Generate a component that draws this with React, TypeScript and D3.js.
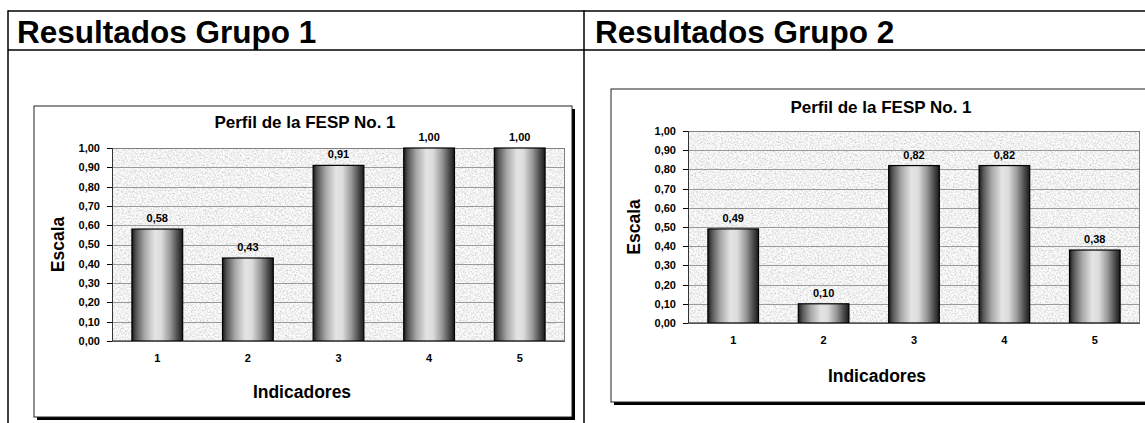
import React from 'react';
import * as d3 from 'd3';

const categories = ['1', '2', '3', '4', '5'];
const group1Values = [0.58, 0.43, 0.91, 1.0, 1.0];
const group2Values = [0.49, 0.1, 0.82, 0.82, 0.38];
const yTicks = [0, 0.1, 0.2, 0.3, 0.4, 0.5, 0.6, 0.7, 0.8, 0.9, 1.0];
const headerLabels = ['Resultados Grupo 1', 'Resultados Grupo 2'];
const chartTitle = 'Perfil de la FESP No. 1';
const yAxisTitle = 'Escala';
const xAxisTitle = 'Indicadores';

const FONT = '"Liberation Sans", Arial, Helvetica, sans-serif';
const fmt = (v: number) => d3.format('.2f')(v).replace('.', ',');

type ChartProps = {
  id: string;
  values: number[];
  box: { x: number; y: number; w: number; h: number };
  plot: { left: number; right: number; top: number; bottom: number };
  titleX: number;
  titleY: number;
  xTitleX: number;
  xTitleY: number;
};

function BarChart({ id, values, box, plot, titleX, titleY, xTitleX, xTitleY }: ChartProps) {
  const x = d3
    .scaleBand<string>()
    .domain(categories)
    .range([plot.left, plot.right])
    .paddingInner(0.44)
    .paddingOuter(0.22);
  const y = d3.scaleLinear().domain([0, 1]).range([plot.bottom, plot.top]);
  const pw = plot.right - plot.left;
  const ph = plot.bottom - plot.top;
  return (
    <g>
      <defs>
        <filter id={`tex-${id}`} x="0" y="0" width="1" height="1" filterUnits="objectBoundingBox">
          <feTurbulence type="fractalNoise" baseFrequency="0.6" numOctaves="3" seed="7" result="n" />
          <feColorMatrix
            in="n"
            type="matrix"
            values="0.75 0.15 0 0 0.43  0.75 0.15 0 0 0.43  0.75 0.15 0 0 0.43  0 0 0 0 1"
          />
        </filter>
        <linearGradient id={`bar-${id}`} x1="0" y1="0" x2="1" y2="0">
          <stop offset="0" stopColor="#1a1a1a" />
          <stop offset="0.08" stopColor="#555" />
          <stop offset="0.25" stopColor="#a8a8a8" />
          <stop offset="0.45" stopColor="#e4e4e4" />
          <stop offset="0.58" stopColor="#dcdcdc" />
          <stop offset="0.75" stopColor="#999" />
          <stop offset="0.9" stopColor="#4a4a4a" />
          <stop offset="1" stopColor="#1a1a1a" />
        </linearGradient>
      </defs>
      <rect x={box.x + 3} y={box.y + 3} width={box.w} height={box.h} fill="#000" />
      <rect x={box.x} y={box.y} width={box.w} height={box.h} fill="#fff" stroke="#222" strokeWidth={1} />
      <text
        x={titleX}
        y={titleY}
        textAnchor="middle"
        fontFamily={FONT}
        fontWeight="bold"
        fontSize={17}
        fill="#000"
      >
        {chartTitle}
      </text>
      <rect x={plot.left} y={plot.top} width={pw} height={ph} fill="#ddd" />
      <rect x={plot.left} y={plot.top} width={pw} height={ph} filter={`url(#tex-${id})`} />
      {yTicks.map((t) => (
        <line
          key={`g${t}`}
          x1={plot.left}
          x2={plot.right}
          y1={Math.round(y(t)) + 0.5}
          y2={Math.round(y(t)) + 0.5}
          stroke="#9a9a9a"
          strokeWidth={1}
        />
      ))}
      <rect
        x={plot.left + 0.5}
        y={plot.top + 0.5}
        width={pw - 1}
        height={ph - 1}
        fill="none"
        stroke="#808080"
        strokeWidth={1}
      />
      {values.map((v, i) => {
        const bx = x(categories[i])!;
        const bw = x.bandwidth();
        const top = y(v);
        return (
          <g key={`b${i}`}>
            <rect
              x={bx}
              y={top}
              width={bw}
              height={plot.bottom - top}
              fill={`url(#bar-${id})`}
              stroke="#000"
              strokeWidth={1.2}
            />
            <text
              x={bx + bw / 2}
              y={top - 7}
              textAnchor="middle"
              fontFamily={FONT}
              fontWeight="bold"
              fontSize={11}
              fill="#000"
            >
              {fmt(v)}
            </text>
          </g>
        );
      })}
      <line x1={plot.left + 0.5} x2={plot.left + 0.5} y1={plot.top} y2={plot.bottom} stroke="#333" strokeWidth={1} />
      <line x1={plot.left} x2={plot.right} y1={plot.bottom + 0.5} y2={plot.bottom + 0.5} stroke="#555" strokeWidth={1} />
      {yTicks.map((t) => (
        <g key={`t${t}`}>
          <line
            x1={plot.left - 5}
            x2={plot.left}
            y1={Math.round(y(t)) + 0.5}
            y2={Math.round(y(t)) + 0.5}
            stroke="#000"
            strokeWidth={1}
          />
          <text
            x={plot.left - 12}
            y={y(t)}
            dy="0.36em"
            textAnchor="end"
            fontFamily={FONT}
            fontWeight="bold"
            fontSize={11}
            fill="#000"
          >
            {fmt(t)}
          </text>
        </g>
      ))}
      {categories.map((c) => (
        <text
          key={`x${c}`}
          x={x(c)! + x.bandwidth() / 2}
          y={plot.bottom + 21}
          textAnchor="middle"
          fontFamily={FONT}
          fontWeight="bold"
          fontSize={11}
          fill="#000"
        >
          {c}
        </text>
      ))}
      <text
        transform={`translate(${plot.left - 54},${(plot.top + plot.bottom) / 2}) rotate(-90)`}
        textAnchor="middle"
        dy="0.36em"
        fontFamily={FONT}
        fontWeight="bold"
        fontSize={17.5}
        fill="#000"
      >
        {yAxisTitle}
      </text>
      <text
        x={xTitleX}
        y={xTitleY}
        textAnchor="middle"
        fontFamily={FONT}
        fontWeight="bold"
        fontSize={17.5}
        fill="#000"
      >
        {xAxisTitle}
      </text>
    </g>
  );
}

export default function App() {
  const W = 1145;
  const H = 423;
  return (
    <svg
      width={W}
      height={H}
      style={{ position: 'absolute', left: 0, top: 0, background: '#fff' }}
      xmlns="http://www.w3.org/2000/svg"
    >
      <rect x={0} y={0} width={W} height={H} fill="#fff" />
      <line x1={8} x2={W} y1={11} y2={11} stroke="#000" strokeWidth={1.5} />
      <line x1={8} x2={W} y1={50} y2={50} stroke="#000" strokeWidth={1.5} />
      <line x1={8} x2={8} y1={10.25} y2={H} stroke="#000" strokeWidth={1.5} />
      <line x1={584} x2={584} y1={10.25} y2={H} stroke="#000" strokeWidth={1.5} />
      <text x={17} y={43} fontFamily={FONT} fontWeight="bold" fontSize={31.5} fill="#000">
        {headerLabels[0]}
      </text>
      <text x={595} y={43} fontFamily={FONT} fontWeight="bold" fontSize={31.5} fill="#000">
        {headerLabels[1]}
      </text>
      <BarChart
        id="g1"
        values={group1Values}
        box={{ x: 34, y: 106, w: 538, h: 311 }}
        plot={{ left: 112, right: 565, top: 148, bottom: 341 }}
        titleX={305}
        titleY={128}
        xTitleX={302}
        xTitleY={398}
      />
      <BarChart
        id="g2"
        values={group2Values}
        box={{ x: 611, y: 89, w: 542, h: 313 }}
        plot={{ left: 688, right: 1140, top: 131, bottom: 323 }}
        titleX={881}
        titleY={113}
        xTitleX={877}
        xTitleY={382}
      />
    </svg>
  );
}
